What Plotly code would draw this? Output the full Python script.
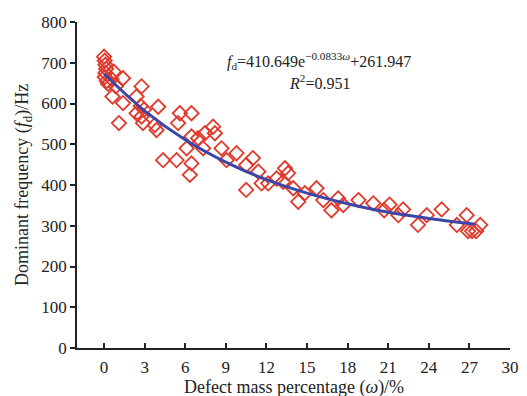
import plotly.graph_objects as go

# Scatter data: defect mass percentage (%) vs dominant frequency (Hz)
omega = [0.0, 0.05, 0.1, 0.15, 0.1, 0.05, 0.2, 0.3, 0.72, 0.55, 1.4, 0.87, 0.62, 1.4, 1.1,
         2.77, 2.4, 2.71, 2.4, 2.77, 2.88, 2.95, 4.0, 3.75, 3.88, 4.36, 5.36, 5.6, 5.47,
         6.46, 6.46, 6.95, 7.45, 8.06, 8.19, 6.1, 7.32, 8.68, 9.79, 9.05, 6.46, 6.34,
         11.0, 10.5, 10.5, 11.4, 11.64, 12.13, 12.75, 13.24, 13.37, 13.6, 13.98, 14.35,
         14.84, 15.7, 16.2, 16.8, 17.3, 17.68, 18.8, 19.9, 20.7, 21.1, 21.75, 22.1,
         23.2, 23.85, 24.95, 26.07, 26.8, 26.9, 27.2, 27.5, 27.8]
freq = [715, 705, 695, 685, 675, 665, 655, 648, 678, 660, 662, 642, 617, 601, 552,
        642, 617, 594, 576, 568, 552, 585, 592, 547, 535, 461, 461, 576, 552,
        576, 519, 515, 527, 543, 527, 490, 490, 490, 478, 461, 453, 425,
        466, 449, 388, 433, 404, 404, 416, 408, 441, 429, 392, 359,
        380, 392, 363, 338, 367, 351, 363, 355, 338, 352, 326, 340,
        302, 326, 340, 302, 326, 287, 287, 287, 302]

# Fitted curve
fit_x = [0, 3, 6, 9, 12, 15, 18, 21, 24, 27.4]
fit_y = [673, 582, 511, 456, 413, 380, 354, 333, 318, 304]

x_ticks = [0, 3, 6, 9, 12, 15, 18, 21, 24, 27, 30]
y_ticks = [0, 100, 200, 300, 400, 500, 600, 700, 800]

FONT = "Liberation Serif, Times New Roman, serif"

fig = go.Figure()
fig.add_trace(go.Scatter(
    x=omega, y=freq, mode="markers",
    marker=dict(symbol="diamond-open", size=11, color="#e03a2c", line=dict(width=1.8, color="#e03a2c")),
    showlegend=False, hoverinfo="skip"))
fig.add_trace(go.Scatter(
    x=fit_x, y=fit_y, mode="lines", line=dict(color="#3b46a6", width=3, shape="spline"),
    showlegend=False, hoverinfo="skip"))

fig.update_layout(
    width=527, height=396,
    margin=dict(l=77, r=17, t=22, b=48),
    paper_bgcolor="white", plot_bgcolor="white",
    font=dict(family=FONT, size=17, color="#222"),
    xaxis=dict(range=[-2, 30], tickvals=x_ticks, ticktext=[str(v) for v in x_ticks],
               showgrid=False, zeroline=False, showline=True, linecolor="#222", linewidth=1.5,
               ticks="inside", ticklen=5, tickwidth=1.5, tickcolor="#222",
               tickfont=dict(size=17), ticklabelstandoff=3, automargin=False),
    yaxis=dict(range=[0, 800], tickvals=y_ticks,
               showgrid=False, zeroline=False, showline=True, linecolor="#222", linewidth=1.5,
               ticks="outside", ticklen=5, tickwidth=1.5, tickcolor="#222",
               tickfont=dict(size=17), automargin=False,
               title=dict(text="Dominant frequency (<i>f</i><sub>d</sub>)/Hz", font=dict(size=18), standoff=8)),
    annotations=[
        dict(text="<i>f</i><sub>d</sub>=410.649e<sup>−0.0833<i>ω</i></sup>+261.947",
             xref="paper", yref="paper", x=0.56, y=0.88, showarrow=False,
             xanchor="center", yanchor="middle", font=dict(size=16, family=FONT)),
        dict(text="<i>R</i><sup>2</sup>=0.951",
             xref="paper", yref="paper", x=0.56, y=0.815, showarrow=False,
             xanchor="center", yanchor="middle", font=dict(size=16, family=FONT)),
        dict(text="Defect mass percentage (<i>ω</i>)/%",
             xref="paper", yref="paper", x=0.5, y=-0.12, showarrow=False,
             xanchor="center", yanchor="middle", font=dict(size=18, family=FONT)),
    ],
)

fig.write_html("out.html")
